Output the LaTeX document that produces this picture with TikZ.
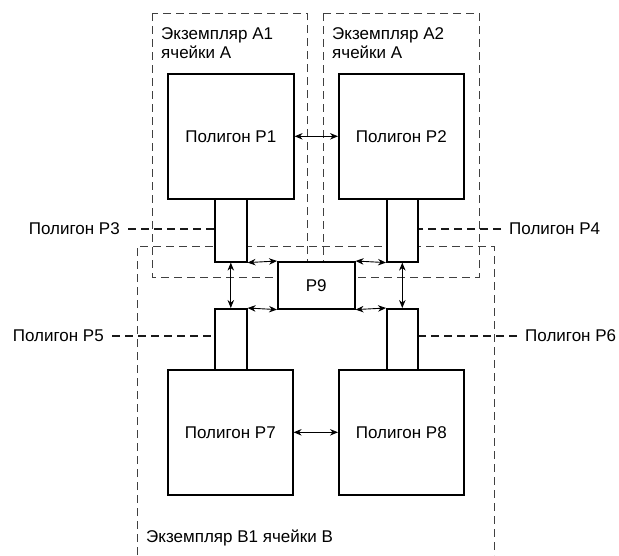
\documentclass[tikz,border=0pt]{standalone}
\usepackage{fontspec}
\setmainfont{Liberation Sans}
\usetikzlibrary{arrows.meta}
\begin{document}
\begin{tikzpicture}[x=1pt,y=-1pt,
  every node/.style={font=\fontsize{17}{19.5}\selectfont},
  poly/.style={draw, line width=1.6pt, fill=white, inner sep=0pt, anchor=north west},
  cellbox/.style={draw=black!75, line width=1pt, dash pattern=on 8pt off 5pt},
  leader/.style={draw=black!90, line width=1.1pt, dash pattern=on 8pt off 5pt},
  link/.style={line width=0.9pt, {Stealth[length=8pt,width=6.5pt]}-{Stealth[length=8pt,width=6.5pt]}},
  lbl/.style={inner sep=0pt, align=left, anchor=north west}
]
\useasboundingbox (0,0) rectangle (619,555);
% cell instance frames
\draw[cellbox] (152,13) rectangle (307,277);
\draw[cellbox] (323,13) rectangle (479,277);
\draw[cellbox] (137,555) -- (137,246) -- (494,246) -- (494,555);
\node[lbl] (A1) at (161,27) {Экземпляр A1\\ячейки A};
\node[lbl] (A2) at (332,27) {Экземпляр A2\\ячейки A};
\node[lbl] (B1) at (146,530) {Экземпляр B1 ячейки B};
% polygons
\node[poly, minimum width=126pt, minimum height=125pt] (P1) at (167,73) {Полигон P1};
\node[poly, minimum width=125pt, minimum height=125pt] (P2) at (338,73) {Полигон P2};
\node[poly, minimum width=32pt, minimum height=63pt] (P3) at (214,198) {};
\node[poly, minimum width=31pt, minimum height=63pt] (P4) at (386,198) {};
\node[poly, minimum width=77pt, minimum height=47pt] (P9) at (277,261) {P9};
\node[poly, minimum width=32pt, minimum height=61pt] (P5) at (214,308) {};
\node[poly, minimum width=31pt, minimum height=61pt] (P6) at (386,308) {};
\node[poly, minimum width=125pt, minimum height=125pt] (P7) at (167,369) {Полигон P7};
\node[poly, minimum width=125pt, minimum height=125pt] (P8) at (338,369) {Полигон P8};
% connections
\draw[link] (P1.east) -- (P2.west);
\draw[link] (P7.east) -- (P8.west);
\draw[link] (P3.south east) -- (P9.north west);
\draw[link] (P4.south west) -- (P9.north east);
\draw[link] (P5.north east) -- (P9.south west);
\draw[link] (P6.north west) -- (P9.south east);
\draw[link] (P3.south) -- (P5.north);
\draw[link] (P4.south) -- (P6.north);
% leader labels
\node[inner sep=0pt, anchor=east] (L3) at (120,229) {Полигон P3};
\node[inner sep=0pt, anchor=west] (L4) at (509,229) {Полигон P4};
\node[inner sep=0pt, anchor=east] (L5) at (104,336) {Полигон P5};
\node[inner sep=0pt, anchor=west] (L6) at (525,336) {Полигон P6};
\draw[leader] ([xshift=8pt]L3.east) -- (P3.west |- L3.east);
\draw[leader] ([xshift=-8pt]L4.west) -- (P4.east |- L4.west);
\draw[leader] ([xshift=8pt]L5.east) -- (P5.west |- L5.east);
\draw[leader] ([xshift=-8pt]L6.west) -- (P6.east |- L6.west);
\end{tikzpicture}
\end{document}
